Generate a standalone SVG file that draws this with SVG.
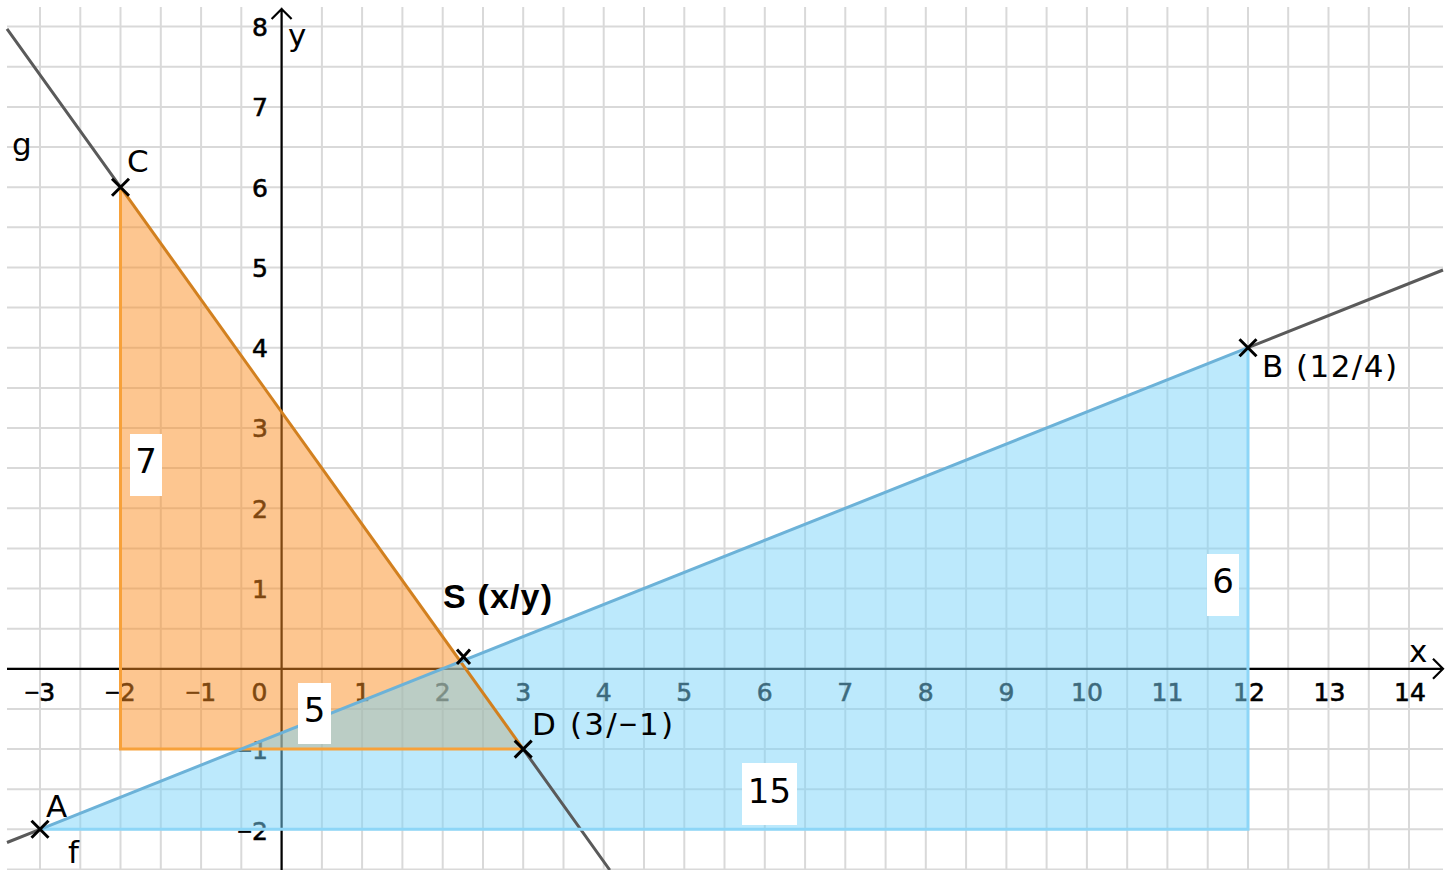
<svg xmlns="http://www.w3.org/2000/svg" xmlns:xlink="http://www.w3.org/1999/xlink" width="1455" height="870" viewBox="0 0 1455 870">
<style>
.grid{fill:none;stroke:#d9d9d9;stroke-width:2}
.axis{fill:none;stroke:#000;stroke-width:2.2}
.tk{font-family:"DejaVu Sans",sans-serif;font-size:25px;fill:#000;stroke:#000;stroke-width:0.6}
.tx{text-anchor:middle}
.ty{text-anchor:end}
.mn{font-family:"Liberation Sans",sans-serif}
.lbl{font-family:"DejaVu Sans",sans-serif;font-size:31px;fill:#000}
.box{fill:#fff}
.num{font-family:"DejaVu Sans",sans-serif;font-size:34px;fill:#000;text-anchor:middle}
.cross{fill:none;stroke:#000;stroke-width:3}
.gline{fill:none;stroke:#5a5a5a;stroke-width:3}
</style>
<defs>
<path id="cross" d="M-8.5,-8.5L8.5,8.5M-8.5,8.5L8.5,-8.5"/>
</defs>
<rect width="1455" height="870" fill="#fff"/>
<g id="grid" class="grid">
<path d="M40,7V870M80.3,7V870M120.5,7V870M160.8,7V870M201.1,7V870M241.3,7V870M281.6,7V870M321.9,7V870M362.1,7V870M402.4,7V870M442.7,7V870M483,7V870M523.2,7V870M563.5,7V870M603.7,7V870M644,7V870M684.3,7V870M724.5,7V870M764.8,7V870M805.1,7V870M845.3,7V870M885.6,7V870M925.8,7V870M966.1,7V870M1006.4,7V870M1046.6,7V870M1086.9,7V870M1127.2,7V870M1167.4,7V870M1207.7,7V870M1248,7V870M1288.2,7V870M1328.5,7V870M1368.8,7V870M1409,7V870"/>
<path d="M7,26.6H1443M7,66.8H1443M7,106.9H1443M7,147H1443M7,187.2H1443M7,227.3H1443M7,267.5H1443M7,307.6H1443M7,347.7H1443M7,387.9H1443M7,428H1443M7,468.1H1443M7,508.3H1443M7,548.4H1443M7,588.5H1443M7,628.7H1443M7,668.8H1443M7,708.9H1443M7,749.1H1443M7,789.2H1443M7,829.3H1443M7,869.5H1443"/>
</g>
<g id="axes">
<path class="axis" d="M7,668.8H1443M1433,658.8L1443,668.8L1433,678.8"/>
<path class="axis" d="M281.6,870V9M271.6,19L281.6,9L291.6,19"/>
<text class="lbl" x="1409" y="662">x</text>
<text class="lbl" x="288" y="46">y</text>
<g class="tk tx">
<text x="40" y="701"><tspan class="mn">−</tspan>3</text>
<text x="120.5" y="701"><tspan class="mn">−</tspan>2</text>
<text x="201" y="701"><tspan class="mn">−</tspan>1</text>
<text x="259.5" y="701">0</text>
<text x="362.1" y="701">1</text>
<text x="442.7" y="701">2</text>
<text x="523.2" y="701">3</text>
<text x="603.7" y="701">4</text>
<text x="684.3" y="701">5</text>
<text x="764.8" y="701">6</text>
<text x="845.3" y="701">7</text>
<text x="925.8" y="701">8</text>
<text x="1006.4" y="701">9</text>
<text x="1086.9" y="701">10</text>
<text x="1167.4" y="701">11</text>
<text x="1249" y="701">12</text>
<text x="1329.5" y="701">13</text>
<text x="1410" y="701">14</text>
</g>
<g class="tk ty">
<text x="268" y="36">8</text>
<text x="268" y="116.3">7</text>
<text x="268" y="196.6">6</text>
<text x="268" y="276.9">5</text>
<text x="268" y="357.1">4</text>
<text x="268" y="437.4">3</text>
<text x="268" y="517.7">2</text>
<text x="268" y="597.9">1</text>
<text x="268" y="759"><tspan class="mn">−</tspan>1</text>
<text x="268" y="840"><tspan class="mn">−</tspan>2</text>
</g>
</g>
<g id="triangle-orange">
<polygon points="120.5,187.2 120.5,749.1 523.2,749.1" fill="#fb8d21" fill-opacity="0.5"/>
</g>
<g id="triangle-blue">
<polygon points="40,829.3 1248,347.7 1248,829.3" fill="#79d3f9" fill-opacity="0.5"/>
</g>
<g id="connectors">
<path class="gline" d="M7,28.8L120.5,187.2M523.2,749.1L609.8,870"/>
<path class="gline" d="M7,842.5L40,829.3M1248,347.7L1443,270"/>
<path d="M120.5,187.2V749.1H523.2" fill="none" stroke="#f7a13a" stroke-width="3"/>
<path d="M120.5,187.2L523.2,749.1" fill="none" stroke="#d2801f" stroke-width="3"/>
<path d="M40,829.3H1248V347.7" fill="none" stroke="#8dd6f7" stroke-width="3"/>
<path d="M40,829.3L1248,347.7" fill="none" stroke="#6cb2d8" stroke-width="3"/>
</g>
<g id="point-C">
<use href="#cross" class="cross" x="120.5" y="187.2"/>
<text class="lbl" x="127" y="172">C</text>
</g>
<g id="point-D">
<use href="#cross" class="cross" x="523.2" y="749.1"/>
<text class="lbl" x="532" y="735" textLength="141" lengthAdjust="spacing">D (3/<tspan class="mn">−</tspan>1)</text>
</g>
<g id="point-A">
<use href="#cross" class="cross" x="40" y="829.3"/>
<text class="lbl" x="46" y="817">A</text>
</g>
<g id="point-B">
<use href="#cross" class="cross" x="1248" y="347.7"/>
<text class="lbl" x="1262" y="377" textLength="135" lengthAdjust="spacing">B (12/4)</text>
</g>
<g id="point-S">
<path class="cross" d="M457,649.5L470,664M470,649.5L457,664" stroke-width="4.2"/>
<text x="443" y="608" font-family="Liberation Sans, Arial, sans-serif" font-weight="bold" font-size="34" fill="#000" textLength="109" lengthAdjust="spacing">S (x/y)</text>
</g>
<g id="line-labels">
<text class="lbl" x="12" y="155">g</text>
<text class="lbl" x="68" y="863">f</text>
</g>
<g id="label-7">
<rect class="box" x="130" y="434" width="32" height="62"/>
<text class="num" x="146" y="473">7</text>
</g>
<g id="label-5">
<rect class="box" x="298" y="683" width="33" height="61"/>
<text class="num" x="314.5" y="722">5</text>
</g>
<g id="label-6">
<rect class="box" x="1207" y="554" width="32" height="62"/>
<text class="num" x="1223" y="593">6</text>
</g>
<g id="label-15">
<rect class="box" x="742" y="763" width="55" height="62"/>
<text class="num" x="769.5" y="803">15</text>
</g>
</svg>
